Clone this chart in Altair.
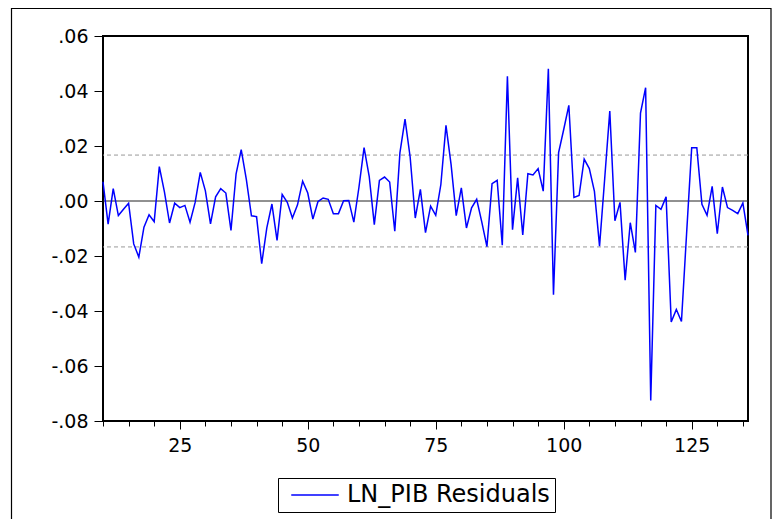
import altair as alt
import pandas as pd

# observation index (first residual is observation 10)
obs = list(range(10, 137))
residuals = [
    0.0070, -0.0084, 0.0045, -0.0053, -0.0030, -0.0008, -0.0156, -0.0204, -0.0095, -0.0050,
    -0.0075, 0.0125, 0.0033, -0.0080, -0.0008, -0.0024, -0.0016, -0.0077, -0.0005, 0.0104,
    0.0037, -0.0083, 0.0015, 0.0045, 0.0029, -0.0107, 0.0099, 0.0187, 0.0079, -0.0054,
    -0.0057, -0.0228, -0.0098, -0.0011, -0.0143, 0.0024, -0.0005, -0.0062, -0.0014, 0.0072,
    0.0029, -0.0066, -0.0002, 0.0011, 0.0006, -0.0046, -0.0046, 0.0001, 0.0002, -0.0077,
    0.0050, 0.0194, 0.0090, -0.0086, 0.0075, 0.0087, 0.0069, -0.0110, 0.0175, 0.0298,
    0.0160, -0.0062, 0.0042, -0.0115, -0.0019, -0.0052, 0.0060, 0.0275, 0.0132, -0.0053,
    0.0048, -0.0098, -0.0025, 0.0006, -0.0077, -0.0166, 0.0063, 0.0075, -0.0161, 0.0454,
    -0.0104, 0.0084, -0.0123, 0.0099, 0.0095, 0.0118, 0.0036, 0.0481, -0.0341, 0.0176,
    0.0260, 0.0348, 0.0013, 0.0020, 0.0152, 0.0118, 0.0035, -0.0164, 0.0080, 0.0327,
    -0.0072, -0.0005, -0.0288, -0.0079, -0.0187, 0.0320, 0.0412, -0.0725, -0.0016, -0.0030,
    0.0015, -0.0440, -0.0394, -0.0438, -0.0120, 0.0194, 0.0194, -0.0012, -0.0052, 0.0053,
    -0.0119, 0.0051, -0.0024, -0.0034, -0.0046, -0.0007, -0.0125,
]
series_name = "LN_PIB Residuals"

x_domain = [10, 136]
y_domain = [-0.08, 0.06]
y_ticks = [-0.08, -0.06, -0.04, -0.02, 0.0, 0.02, 0.04, 0.06]
x_major = [25, 50, 75, 100, 125]
x_minor = list(range(10, 137, 5))

zero_line = [0.0]
band_lines = [0.0167, -0.0167]

df = pd.DataFrame({"t": obs, "r": residuals, "series": series_name})
zero_df = pd.DataFrame({"y": zero_line})
band_df = pd.DataFrame({"y": band_lines})

FONT = "DejaVu Sans"

xscale = alt.Scale(domain=x_domain, nice=False, zero=False)
yscale = alt.Scale(domain=y_domain, nice=False, zero=False)

y_axis = alt.Axis(
    values=y_ticks, tickSize=9, tickColor="black", tickWidth=1, domain=False, grid=False,
    title=None, labelFont=FONT, labelFontSize=19, labelColor="black", labelPadding=6,
    labelExpr="replace(replace(format(datum.value, '.2f'), '0.', '.'), '\u2212', '-')")

frame = alt.Chart(zero_df).mark_rect(
    fill="white", fillOpacity=0, stroke="black", strokeWidth=1.2, clip=False
).encode(
    x=alt.value(-91.5), x2=alt.value(668), y=alt.value(-27.5), y2=alt.value(700)
)

bands = alt.Chart(band_df).mark_rule(color="#999999", strokeWidth=1, strokeDash=[4, 3]).encode(
    y=alt.Y("y:Q", scale=yscale, axis=y_axis)
)
zero = alt.Chart(zero_df).mark_rule(color="#222222", strokeWidth=1).encode(
    y=alt.Y("y:Q", scale=yscale, axis=y_axis)
)

minor = alt.Chart(df).mark_point(opacity=0).encode(
    x=alt.X("t:Q", scale=xscale, axis=alt.Axis(
        values=x_minor, labels=False, tickSize=5, tickColor="black", tickWidth=1,
        domain=False, grid=False, title=None, orient="bottom")),
    y=alt.Y("r:Q", scale=yscale, axis=y_axis),
)

line = alt.Chart(df).mark_line(strokeWidth=1.5).encode(
    x=alt.X("t:Q", scale=xscale, axis=alt.Axis(
        values=x_major, tickSize=8, tickColor="black", tickWidth=1, domain=False, grid=False,
        title=None, labelFont=FONT, labelFontSize=19, labelColor="black", labelPadding=7,
        format="d", orient="bottom")),
    y=alt.Y("r:Q", scale=yscale, axis=y_axis),
    color=alt.Color("series:N", scale=alt.Scale(range=["#0000FF"]), legend=alt.Legend(
        title=None, orient="none", legendX=175, legendY=442,
        symbolType="M-2.5,0H2.5", symbolSize=361, symbolStrokeWidth=1.5,
        symbolOffset=20, labelFont=FONT, labelFontSize=24,
        labelColor="black", strokeColor="black", fillColor="white", padding=5,
        labelOffset=20, labelLimit=0)),
)

chart = alt.layer(frame, bands, zero, minor, line).resolve_axis(x="independent").properties(
    width=645, height=385,
    background="white",
    autosize=alt.AutoSizeParams(type="none"),
    padding={"left": 95, "top": 28, "right": 25, "bottom": 98},
).configure_view(stroke="black", strokeWidth=2)

chart.save("out.html", embed_options={"renderer": "svg", "actions": False})
